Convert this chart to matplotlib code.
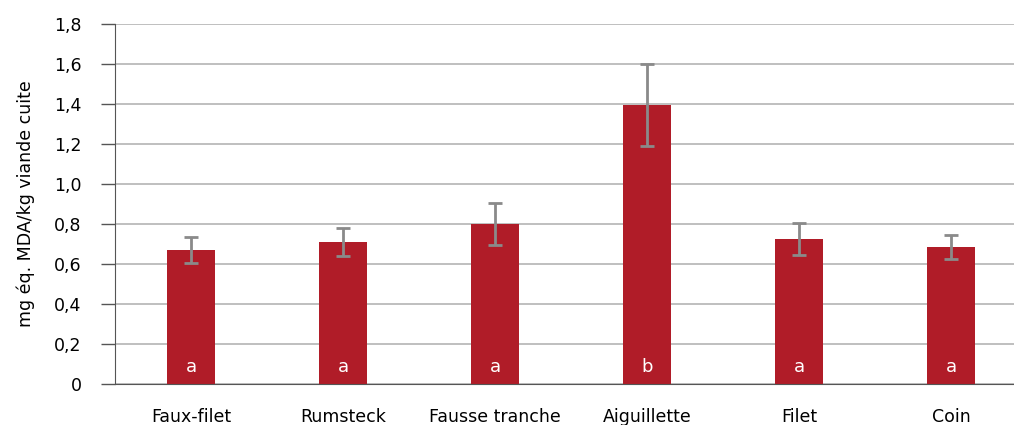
import numpy as np
import matplotlib.pyplot as plt
from matplotlib import font_manager

categories = ['Faux-filet', 'Rumsteck', 'Fausse tranche', 'Aiguillette', 'Filet', 'Coin']
values = [0.67, 0.71, 0.80, 1.395, 0.725, 0.685]
errors = [0.065, 0.068, 0.105, 0.207, 0.08, 0.062]
letters = ['a', 'a', 'a', 'b', 'a', 'a']
yticks = [0, 0.2, 0.4, 0.6, 0.8, 1.0, 1.2, 1.4, 1.6, 1.8]

names = {f.name for f in font_manager.fontManager.ttflist}
family = ['Liberation Sans Narrow', 'DejaVu Sans'] if 'Liberation Sans Narrow' in names else ['DejaVu Sans']
plt.rcParams['font.family'] = family

fig = plt.figure(figsize=(10.14, 4.25), dpi=100)
# axis runs past the right edge, as in the reference
ax = fig.add_axes([115 / 1014, (425 - 384) / 425, 912 / 1014, 360 / 425])

x = np.arange(len(categories))
ax.bar(x, values, width=0.32, color='#b01c28', zorder=2)
ax.errorbar(x, values, yerr=errors, fmt='none', ecolor='#8a8a8a',
            elinewidth=2, capsize=5, capthick=2, zorder=3)

for xi, lt in zip(x, letters):
    ax.text(xi, 0.085, lt, ha='center', va='center', color='white', fontsize=13, zorder=4)

ax.set_xlim(-0.5, 5.5)
ax.set_ylim(0, 1.8)
ax.set_yticks(yticks)
ax.set_yticklabels(['0' if v == 0 else ('%.1f' % v).replace('.', ',') for v in yticks], fontsize=12.5)
ax.set_xticks(x)
ax.set_xticklabels(categories, fontsize=12.5)
ax.tick_params(axis='x', length=0, pad=17)
ax.tick_params(axis='y', length=10, width=1, color='#555555', pad=14)
ax.yaxis.grid(True, color='#b4b4b4', linewidth=1.2, zorder=0)
ax.set_axisbelow(True)
for side in ['top', 'right']:
    ax.spines[side].set_visible(False)
ax.spines['left'].set_color('#555555')
ax.spines['bottom'].set_color('#555555')
ax.set_ylabel('mg éq. MDA/kg viande cuite', fontsize=12.5, labelpad=14)

fig.savefig('out.png', dpi=100)
